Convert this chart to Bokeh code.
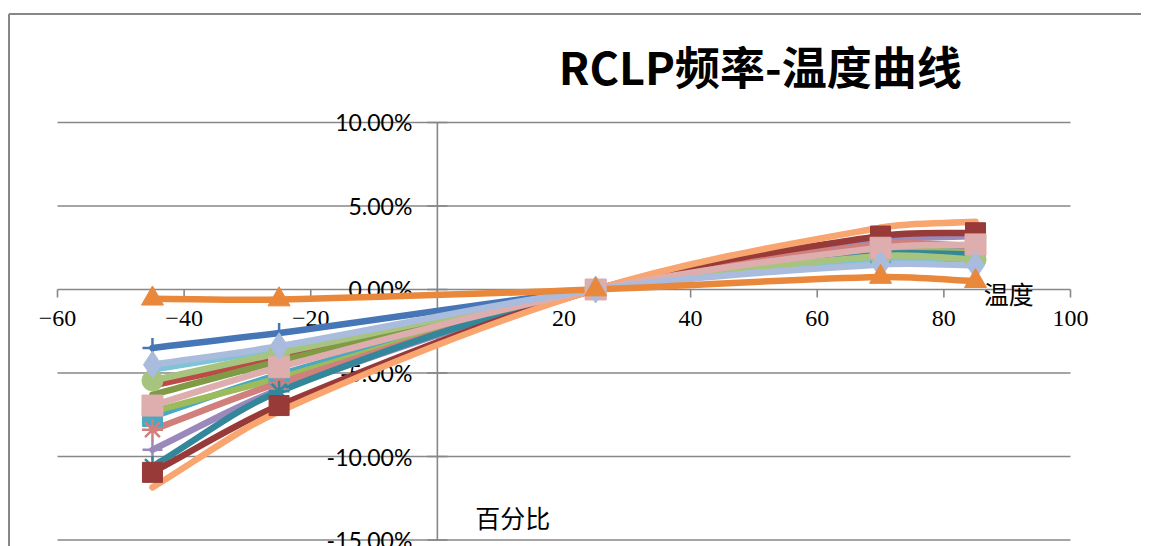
from bokeh.plotting import figure
from bokeh.core.properties import value
from bokeh.embed import file_html
from bokeh.resources import INLINE

# ---------------- data ----------------
temps = [-45, -25, 25, 70, 85]

s_blue = [-3.5, -2.6, 0.0, 1.8, 1.7]
s_orange = [-0.55, -0.6, 0.0, 0.75, 0.5]
s_lightblue = [-4.5, -3.4, 0.0, 1.5, 1.45]
s_aqua = [-4.8, -3.55, 0.0, 1.75, 1.9]
s_green = [-5.45, -3.8, 0.0, 2.0, 1.8]
s_red = [-5.75, -4.1, 0.0, 2.6, 2.5]
s_olive = [-6.3, -4.3, 0.0, 2.3, 2.2]
s_pink = [-6.95, -4.65, 0.0, 2.5, 2.7]
s_teal = [-7.6, -5.1, 0.0, 2.2, 2.35]
s_lightgreen = [-7.3, -5.3, 0.0, 2.3, 2.2]
s_salmon = [-8.4, -5.6, 0.0, 2.7, 2.6]
s_purple = [-9.6, -6.0, 0.0, 2.9, 3.2]
s_darkteal = [-10.6, -6.1, 0.0, 2.1, 2.1]
s_darkred = [-10.95, -6.95, 0.0, 3.2, 3.4]
s_lightorange = [-11.85, -7.3, 0.0, 3.7, 4.05]

x_ticks = [-60, -40, -20, 0, 20, 40, 60, 80, 100]
x_tick_labels = ["\u221260", "\u221240", "\u221220", "0", "20", "40", "60", "80", "100"]
y_ticks = [10, 5, 0, -5, -10, -15]
y_tick_labels = ["10.00%", "5.00%", "0.00%", "-5.00%", "-10.00%", "-15.00%"]

title_text = "RCLP频率-温度曲线"
x_title = "温度"
y_title = "百分比"

# series: (values, color, marker or None, marker size)
series = [
    (s_blue, "#4676B5", "cross", 20),
    (s_aqua, "#7FC3D6", None, 0),
    (s_red, "#BC4A47", None, 0),
    (s_olive, "#7F9B45", None, 0),
    (s_purple, "#9B89BB", "cross", 20),
    (s_teal, "#4BA8C2", "square", 20),
    (s_lightgreen, "#9CBB5A", None, 0),
    (s_salmon, "#D17F7D", "asterisk", 21),
    (s_darkteal, "#33879A", "asterisk", 21),
    (s_darkred, "#973A38", "square", 20),
    (s_lightorange, "#F9A56F", None, 0),
    (s_green, "#A7C47E", "circle", 21),
    (s_pink, "#DDAEAD", "square", 21),
    (s_lightblue, "#A9BCDD", "diamond", 27),
    (s_orange, "#E9883B", "triangle", 22),
]

GRID = "#878787"
X0, X1 = -69.003, 111.216
Y0, Y1 = -15.389, 17.305

p = figure(width=1141, height=546, x_range=(X0, X1), y_range=(Y0, Y1),
           output_backend="svg", toolbar_location=None,
           x_axis_type=None, y_axis_type=None, min_border=0)
p.outline_line_color = None
p.background_fill_color = "white"
p.border_fill_color = "white"

# chart-area frame (left and top edges)
p.segment(x0=[-67.66, -67.66], x1=[X1 + 5, -67.66], y0=[16.50, 16.50], y1=[16.50, Y0 - 5],
          line_color=GRID, line_width=2)

# horizontal gridlines
p.segment(x0=[x_ticks[0]] * len(y_ticks), x1=[x_ticks[-1]] * len(y_ticks),
          y0=y_ticks, y1=y_ticks, line_color=GRID, line_width=1.6)
# vertical axis at x=0
p.segment(x0=[0], x1=[0], y0=[y_ticks[-1]], y1=[y_ticks[0]], line_color=GRID, line_width=1.6)
# y tick marks
p.segment(x0=[-1.6] * len(y_ticks), x1=[1.6] * len(y_ticks), y0=y_ticks, y1=y_ticks,
          line_color=GRID, line_width=1.6)
# x tick marks
p.segment(x0=x_ticks, x1=x_ticks, y0=[0] * len(x_ticks), y1=[-0.48] * len(x_ticks),
          line_color=GRID, line_width=1.6)

# tick labels
p.text(x=x_ticks, y=[0] * len(x_ticks), text=x_tick_labels, y_offset=29,
       text_font=value("Liberation Serif"), text_font_size="24px",
       text_align="center", text_baseline="middle", text_color="#000000")
p.text(x=[0] * len(y_ticks), y=y_ticks, text=y_tick_labels, x_offset=-25,
       text_font=value("Lato"), text_font_size="23px",
       text_align="right", text_baseline="middle", text_color="#000000")


def bezier_parts(xs, ys):
    """Smoothed (Excel-like) cubic Bezier segments through the data points,
    tangent scaled by the non-uniform x spacing."""
    n = len(xs)
    out = {k: [] for k in ("x0", "y0", "x1", "y1", "cx0", "cy0", "cx1", "cy1")}

    def tangent_factor(i, seg_len):
        im = max(i - 1, 0)
        ip = min(i + 1, n - 1)
        span = abs(xs[ip] - xs[im])
        return (xs[ip] - xs[im], ys[ip] - ys[im], seg_len / (3.0 * span))

    for i in range(n - 1):
        d = abs(xs[i + 1] - xs[i])
        tx0, ty0, f0 = tangent_factor(i, d)
        tx1, ty1, f1 = tangent_factor(i + 1, d)
        out["x0"].append(xs[i]); out["y0"].append(ys[i])
        out["x1"].append(xs[i + 1]); out["y1"].append(ys[i + 1])
        out["cx0"].append(xs[i] + tx0 * f0)
        out["cy0"].append(ys[i] + ty0 * f0)
        out["cx1"].append(xs[i + 1] - tx1 * f1)
        out["cy1"].append(ys[i + 1] - ty1 * f1)
    return out


for vals, col, mk, sz in series:
    b = bezier_parts(temps, vals)
    p.bezier(line_color=col, line_width=6.5, line_cap="round", **b)

for vals, col, mk, sz in series:
    if mk is None:
        continue
    if mk in ("cross", "asterisk"):
        p.scatter(temps, vals, marker=mk, size=sz, line_color=col, line_width=2.5)
    else:
        p.scatter(temps, vals, marker=mk, size=sz, fill_color=col, line_color=col)

# titles
p.text(x=[51.0], y=[13.41], text=[title_text], text_font=value("Noto Sans CJK SC"),
       text_font_size="45px", text_font_style="bold", text_align="center",
       text_baseline="middle", text_color="#000000")
p.text(x=[86.3], y=[-0.2], text=[x_title], text_font=value("Noto Sans CJK SC"),
       text_font_size="25px", text_align="left", text_baseline="middle", text_color="#000000")
p.text(x=[6.0], y=[-13.65], text=[y_title], text_font=value("Noto Sans CJK SC"),
       text_font_size="25px", text_align="left", text_baseline="middle", text_color="#000000")

open("out.html", "w").write(file_html(p, INLINE))
